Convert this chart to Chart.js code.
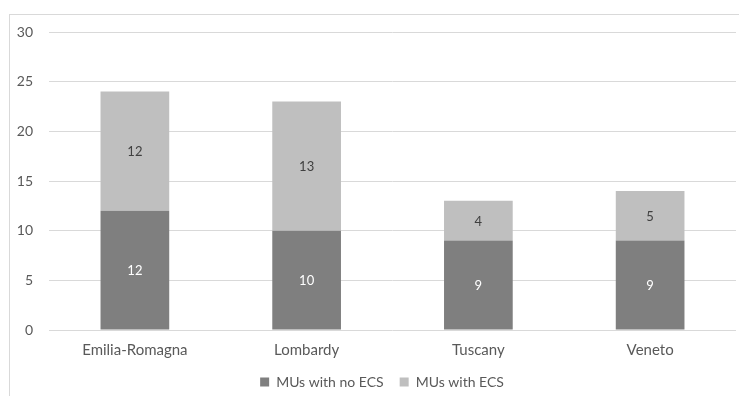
<!DOCTYPE html>
<html>
<head>
<meta charset="utf-8">
<script src="https://cdn.jsdelivr.net/npm/chart.js@4"></script>
<style>
  html, body { margin: 0; padding: 0; background: #fff; }
  #wrap { position: relative; width: 739px; height: 396px; }
</style>
</head>
<body>
<div id="wrap"><canvas id="c" width="739" height="396"></canvas></div>
<script>
const regions = ['Emilia-Romagna', 'Lombardy', 'Tuscany', 'Veneto'];
const noEcs = [12, 10, 9, 9];
const withEcs = [12, 13, 4, 5];
const yTicks = [0, 5, 10, 15, 20, 25, 30];

const FONT = "Lato, 'Open Sans', sans-serif";

// Light frame around the chart object (its right and bottom edges fall outside the view)
const framePlugin = {
  id: 'frame',
  beforeDraw(chart) {
    const ctx = chart.ctx;
    ctx.save();
    ctx.strokeStyle = '#d9d9d9';
    ctx.lineWidth = 1;
    ctx.strokeRect(9.5, 14.5, 800, 500);
    ctx.restore();
  }
};

// Nudge the legend row slightly right so it sits under the plot
const legendShift = {
  id: 'legendShift',
  afterLayout(chart) {
    if (chart.legend) {
      chart.legend.left += 9;
      chart.legend.right += 9;
    }
  }
};

// Value labels centred inside each stacked segment
const segmentLabels = {
  id: 'segmentLabels',
  afterDatasetsDraw(chart) {
    const ctx = chart.ctx;
    ctx.save();
    ctx.font = '13px ' + FONT;
    ctx.textAlign = 'center';
    ctx.textBaseline = 'middle';
    chart.data.datasets.forEach((ds, di) => {
      const meta = chart.getDatasetMeta(di);
      meta.data.forEach((bar, i) => {
        const y = (bar.y + bar.base) / 2;
        ctx.fillStyle = ds.labelColor;
        ctx.fillText(String(ds.data[i]), bar.x, y + 1);
      });
    });
    ctx.restore();
  }
};

new Chart(document.getElementById('c'), {
  type: 'bar',
  data: {
    labels: regions,
    datasets: [
      { label: 'MUs with no ECS', data: noEcs, backgroundColor: '#7f7f7f', labelColor: '#ffffff' },
      { label: 'MUs with ECS', data: withEcs, backgroundColor: '#bfbfbf', labelColor: '#404040' }
    ]
  },
  options: {
    responsive: false,
    animation: false,
    devicePixelRatio: 1,
    layout: { padding: { left: 10, right: 3, top: 32, bottom: -3 } },
    datasets: { bar: { barPercentage: 0.4, categoryPercentage: 1.0 } },
    scales: {
      x: {
        stacked: true,
        afterFit(axis) { axis.height = 29; },
        grid: { display: false, drawTicks: false },
        border: { display: false },
        ticks: { color: '#595959', font: { family: FONT, size: 15 }, padding: 11 }
      },
      y: {
        stacked: true,
        min: 0,
        max: 30,
        afterBuildTicks(axis) { axis.ticks = yTicks.map(v => ({ value: v })); },
        afterFit(axis) { axis.width = 39; },
        grid: { color: '#d9d9d9', lineWidth: 1, drawTicks: false },
        border: { display: false },
        ticks: { color: '#595959', font: { family: FONT, size: 14 }, padding: 16 }
      }
    },
    plugins: {
      legend: {
        position: 'bottom',
        labels: {
          color: '#595959',
          font: { family: FONT, size: 14 },
          boxWidth: 9,
          boxHeight: 9,
          padding: 16
        }
      },
      tooltip: { enabled: false }
    }
  },
  plugins: [framePlugin, legendShift, segmentLabels]
});
</script>
</body>
</html>
